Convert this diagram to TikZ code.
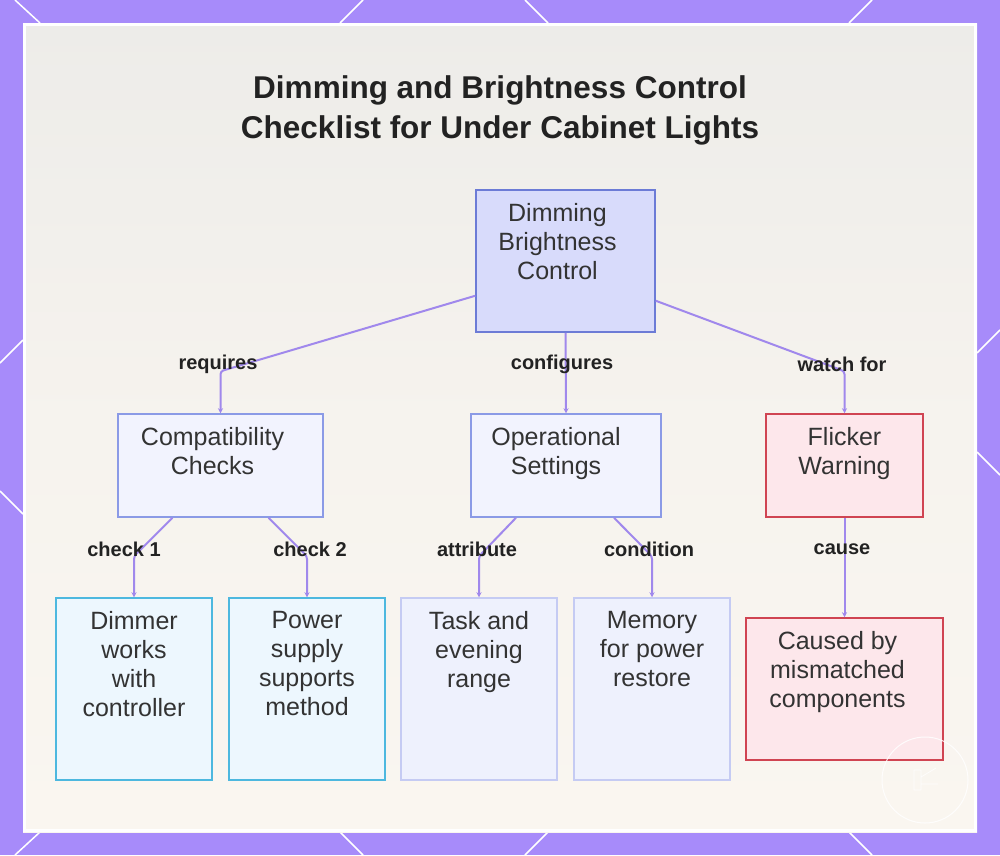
\documentclass[tikz,border=0pt]{standalone}
\usepackage{fontspec}
\setmainfont{Liberation Sans}
\usetikzlibrary{positioning}
\usetikzlibrary{arrows.meta}

\definecolor{framepurple}{HTML}{A78BFA}
\definecolor{edgepurple}{HTML}{A088EC}
\definecolor{paneltop}{HTML}{EDECE9}
\definecolor{panelbottom}{HTML}{FAF6F0}
\definecolor{inkgray}{HTML}{333333}
\definecolor{titleink}{HTML}{222222}
\definecolor{rootfill}{HTML}{D8DBFB}
\definecolor{rootline}{HTML}{6C7BD6}
\definecolor{bluefill}{HTML}{F2F3FE}
\definecolor{blueline}{HTML}{8B9AE6}
\definecolor{redfill}{HTML}{FDE7EB}
\definecolor{redline}{HTML}{D04452}
\definecolor{cyanfill}{HTML}{EDF7FE}
\definecolor{cyanline}{HTML}{4DB8DF}
\definecolor{lavfill}{HTML}{EEF1FD}
\definecolor{lavline}{HTML}{C5CBF3}

\begin{document}
\begin{tikzpicture}[x=1pt, y=-1pt,
	rootbox/.style={draw=rootline, fill=rootfill, line width=1.5pt},
	bluebox/.style={draw=blueline, fill=bluefill, line width=1.5pt},
	redbox/.style={draw=redline, fill=redfill, line width=1.5pt},
	cyanbox/.style={draw=cyanline, fill=cyanfill, line width=1.5pt},
	lavbox/.style={draw=lavline, fill=lavfill, line width=1.5pt},
	txt/.style={align=center, inner sep=0pt, text=inkgray, font=\fontsize{25}{29}\selectfont},
	lbl/.style={inner sep=0pt, text=titleink, font=\bfseries\fontsize{20}{24}\selectfont},
	edge/.style={draw=edgepurple, line width=2pt, rounded corners=3pt, -{Stealth[length=5pt,width=5pt]}}
	]
	\useasboundingbox (0,0) rectangle (1000,855);

	% frame and panel
	\fill [framepurple] (0,0) rectangle (1000,855);
	\draw [white, line width=1.5pt] (15,0) -- (40,23) (363,0) -- (340,23) (525,0) -- (548,23) (872,0) -- (849,23);
	\draw [white, line width=1.5pt] (15,855) -- (40,832) (363,855) -- (340,832) (525,855) -- (548,832) (872,855) -- (849,832);
	\draw [white, line width=1.5pt] (0,363) -- (23,340) (0,491) -- (23,514);
	\draw [white, line width=1.5pt] (1000,330) -- (977,353) (1000,475) -- (977,452);
	\shade [top color=paneltop, bottom color=panelbottom, middle color=panelbottom!70!paneltop] (23,23) rectangle (977,832);
	\draw [white, line width=3pt] (24.5,24.5) rectangle (975.5,830.5);

	% title
	\node [align=center, inner sep=0pt, anchor=north, text=titleink, font=\bfseries\fontsize{31.5}{40}\selectfont] (title) at (500,75) {Dimming and Brightness Control\\Checklist for Under Cabinet Lights};

	% boxes
	\node [rootbox, minimum width=179pt, minimum height=142pt] (root) at (565.5,261) {};
	\node [bluebox, minimum width=205pt, minimum height=103pt] (compat) at (220.5,465.5) {};
	\node [bluebox, minimum width=190pt, minimum height=103pt] (oper) at (566,465.5) {};
	\node [redbox, minimum width=157pt, minimum height=103pt] (flick) at (844.5,465.5) {};
	\node [cyanbox, minimum width=156pt, minimum height=182pt] (dimmer) at (134,689) {};
	\node [cyanbox, minimum width=156pt, minimum height=182pt] (supply) at (307,689) {};
	\node [lavbox, minimum width=156pt, minimum height=182pt] (task) at (479,689) {};
	\node [lavbox, minimum width=156pt, minimum height=182pt] (memory) at (652,689) {};
	\node [redbox, minimum width=197pt, minimum height=142pt] (caused) at (844.5,689) {};

	% box texts
	\node [txt, below=14pt of root.north, xshift=-8pt] (rootT) {Dimming\\Brightness\\Control};
	\node [txt, below=14pt of compat.north, xshift=-8pt] (compatT) {Compatibility\\Checks};
	\node [txt, below=14pt of oper.north, xshift=-10pt] (operT) {Operational\\Settings};
	\node [txt, below=14pt of flick.north] (flickT) {Flicker\\Warning};
	\node [txt, below=14pt of dimmer.north] (dimmerT) {Dimmer\\works\\with\\controller};
	\node [txt, below=14pt of supply.north] (supplyT) {Power\\supply\\supports\\method};
	\node [txt, below=14pt of task.north] (taskT) {Task and\\evening\\range};
	\node [txt, below=14pt of memory.north] (memoryT) {Memory\\for power\\restore};
	\node [txt, below=14pt of caused.north, xshift=-7pt] (causedT) {Caused by\\mismatched\\components};

	% connectors
	\draw [edge] ([yshift=37pt]root.south west) -- ([yshift=42pt]compat.north) -- (compat.north);
	\draw [edge] (root.south) -- (oper.north);
	\draw [edge] ([yshift=32pt]root.south east) -- ([yshift=42pt]flick.north) -- (flick.north);
	\draw [edge] ([xshift=-48pt]compat.south) -- ([yshift=41pt]dimmer.north) -- (dimmer.north);
	\draw [edge] ([xshift=48pt]compat.south) -- ([yshift=41pt]supply.north) -- (supply.north);
	\draw [edge] ([xshift=-50pt]oper.south) -- ([yshift=41pt]task.north) -- (task.north);
	\draw [edge] ([xshift=48pt]oper.south) -- ([yshift=41pt]memory.north) -- (memory.north);
	\draw [edge] (flick.south) -- (caused.north);

	% connector labels
	\node [lbl] (requiresL) at (218,364) {requires};
	\node [lbl] (configuresL) at (562,364) {configures};
	\node [lbl] (watchL) at (842,364) {watch for};
	\node [lbl] (check1L) at (124,549) {check 1};
	\node [lbl] (check2L) at (310,549) {check 2};
	\node [lbl] (attributeL) at (477,549) {attribute};
	\node [lbl] (conditionL) at (649,549) {condition};
	\node [lbl] (causeL) at (842,549) {cause};

	% watermark
	\draw [white, line width=1pt, opacity=0.85] (925,780) circle (43);
	\draw [white, line width=0.8pt, opacity=0.8] (914,770) rectangle (921,790) (921,784) -- (938,784) (921,777) -- (936,768);
\end{tikzpicture}
\end{document}
